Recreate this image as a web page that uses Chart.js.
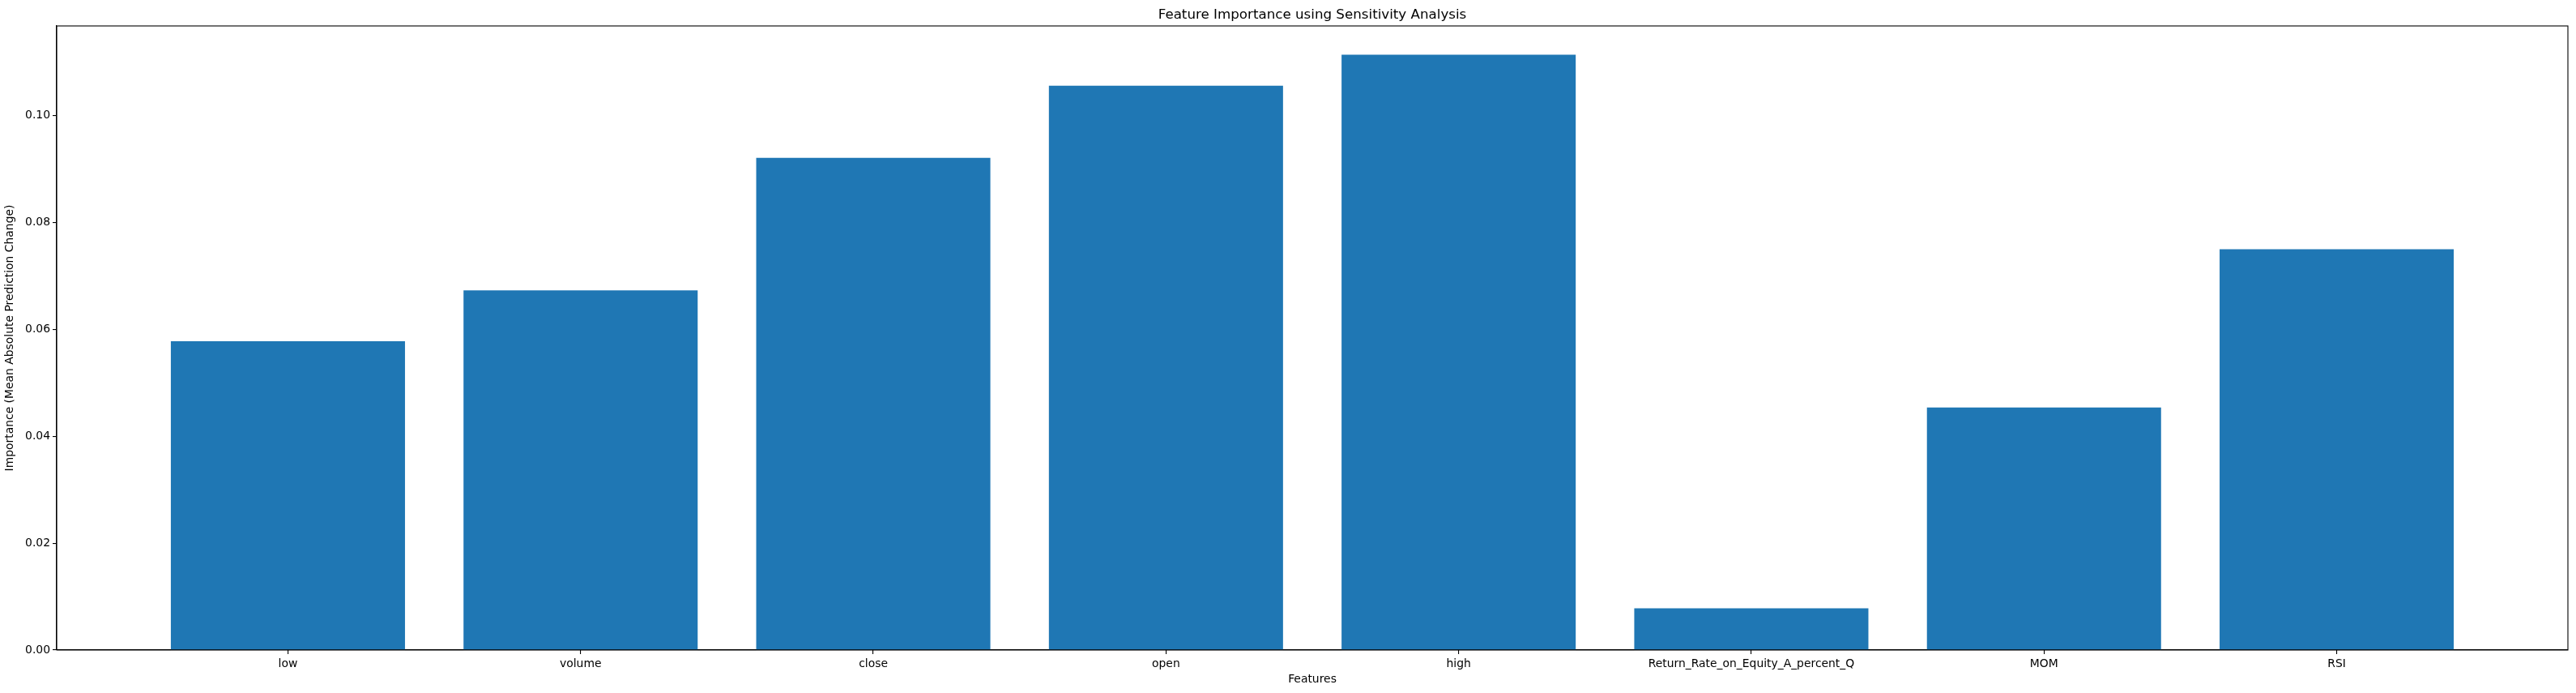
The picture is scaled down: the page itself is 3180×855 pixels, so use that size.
<!DOCTYPE html>
<html>
<head>
<meta charset="utf-8">
<title>Feature Importance using Sensitivity Analysis</title>
<script src="https://cdn.jsdelivr.net/npm/chart.js@4.4.1/dist/chart.umd.min.js"></script>
<style>
  html, body { margin: 0; padding: 0; background: #fff; }
  #wrap { width: 3180px; height: 855px; position: relative; }
</style>
</head>
<body>
<div id="wrap"><canvas id="importanceChart"></canvas></div>
<script>
const features = ['low', 'volume', 'close', 'open', 'high', 'Return_Rate_on_Equity_A_percent_Q', 'MOM', 'RSI'];
const importance = [0.0578, 0.0673, 0.0921, 0.1056, 0.1114, 0.0078, 0.0454, 0.0750];
const yTicks = [0.00, 0.02, 0.04, 0.06, 0.08, 0.10];

const FONT = 'DejaVu Sans';
Chart.defaults.color = '#000';
Chart.defaults.font.family = FONT;
Chart.defaults.font.size = 13.9;

// matplotlib-style full box around the axes plus the title over the axes centre
const frameAndTitle = {
    id: 'frameAndTitle',
    afterDraw(chart) {
        const { ctx, chartArea } = chart;
        ctx.save();
        ctx.strokeStyle = '#000';
        ctx.lineWidth = 1.1;
        ctx.strokeRect(chartArea.left, chartArea.top, chartArea.right - chartArea.left, chartArea.bottom - chartArea.top);
        ctx.fillStyle = '#000';
        ctx.font = '16.7px "' + FONT + '"';
        ctx.textAlign = 'center';
        ctx.textBaseline = 'middle';
        ctx.fillText('Feature Importance using Sensitivity Analysis', (chartArea.left + chartArea.right) / 2, 19);
        ctx.restore();
    }
};

const ctx = document.getElementById('importanceChart').getContext('2d');
new Chart(ctx, {
    type: 'bar',
    data: {
        datasets: [{
            data: features.map((f, i) => ({ x: i, y: importance[i] })),
            backgroundColor: '#1f77b4',
            borderWidth: 0,
            categoryPercentage: 1.0,
            barPercentage: 0.8
        }]
    },
    options: {
        responsive: true,
        maintainAspectRatio: false,
        devicePixelRatio: 1,
        animation: false,
        layout: { padding: { left: 0, right: 10, top: 32, bottom: 0 } },
        plugins: {
            legend: { display: false },
            tooltip: { enabled: false },
            title: { display: false }
        },
        scales: {
            x: {
                type: 'linear',
                offset: false,
                min: -0.79,
                max: 7.79,
                afterBuildTicks: scale => { scale.ticks = features.map((f, i) => ({ value: i })); },
                afterFit: scale => { scale.height = 53; },
                ticks: {
                    autoSkip: false,
                    maxRotation: 0,
                    padding: 4,
                    callback: value => features[value]
                },
                grid: { display: true, offset: false, drawOnChartArea: false, drawTicks: true, tickLength: 5, color: '#000', lineWidth: 1.1 },
                border: { display: true, color: '#000', width: 1.1 },
                title: { display: true, text: 'Features', padding: { top: 2, bottom: 8 } }
            },
            y: {
                min: 0,
                max: 0.1168,
                afterBuildTicks: scale => { scale.ticks = yTicks.map(v => ({ value: v })); },
                afterFit: scale => { scale.width = 70; },
                ticks: {
                    padding: 3,
                    callback: value => value.toFixed(2)
                },
                grid: { display: true, drawOnChartArea: false, drawTicks: true, tickLength: 5, color: '#000', lineWidth: 1.1 },
                border: { display: true, color: '#000', width: 1.1 },
                title: { display: true, text: 'Importance (Mean Absolute Prediction Change)', padding: { top: 4, bottom: 0 } }
            }
        }
    },
    plugins: [frameAndTitle]
});
</script>
</body>
</html>
